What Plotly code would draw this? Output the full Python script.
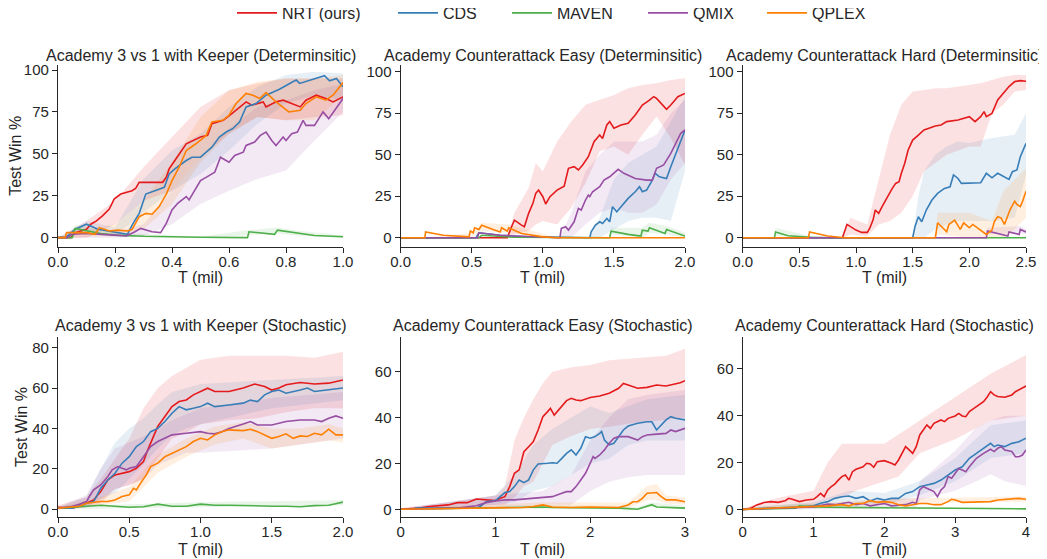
import plotly.graph_objects as go

FONT = "Liberation Sans, Arial, Helvetica, sans-serif"
TXT = "#262626"

methods = ["NRT (ours)", "CDS", "MAVEN", "QMIX", "QPLEX"]
colors = ["#e41a1c", "#377eb8", "#4daf4a", "#984ea3", "#ff7f00"]
fills = ["rgba(228,26,28,0.13)", "rgba(55,126,184,0.12)", "rgba(77,175,74,0.12)",
         "rgba(152,78,163,0.12)", "rgba(255,127,0,0.12)"]

titles = ["Academy 3 vs 1 with Keeper (Determinsitic)",
          "Academy Counterattack Easy (Determinsitic)",
          "Academy Counterattack Hard (Determinsitic)",
          "Academy 3 vs 1 with Keeper (Stochastic)",
          "Academy Counterattack Easy (Stochastic)",
          "Academy Counterattack Hard (Stochastic)"]
x_max = [1.0, 2.0, 2.5, 2.0, 3.0, 4.0]
x_ticks = [[0, 0.2, 0.4, 0.6, 0.8, 1.0], [0, 0.5, 1.0, 1.5, 2.0], [0, 0.5, 1.0, 1.5, 2.0, 2.5],
           [0, 0.5, 1.0, 1.5, 2.0], [0, 1, 2, 3], [0, 1, 2, 3, 4]]
x_fmt = [".1f", ".1f", ".1f", ".1f", "d", "d"]
y_ticks = [[0, 25, 50, 75, 100], [0, 25, 50, 75, 100], [0, 25, 50, 75, 100],
           [0, 20, 40, 60, 80], [0, 20, 40, 60], [0, 20, 40, 60]]
y_range = [[-5.4, 103], [-5.4, 104], [-5.4, 104], [-4.0, 85.4], [-3.5, 75.3], [-3.4, 73.8]]

# ---------------- Panel 1: 3 vs 1 with Keeper (Deterministic) ----------------
p1_nrt_t = [0, 0.045, 0.06, 0.1, 0.115, 0.135, 0.156, 0.18, 0.197, 0.22, 0.26, 0.273, 0.285, 0.367, 0.38, 0.39, 0.41, 0.45, 0.5, 0.525, 0.54, 0.58, 0.61, 0.64, 0.66, 0.68, 0.72, 0.73, 0.765, 0.79, 0.82, 0.85, 0.87, 0.906, 0.94, 0.965, 1.0]
p1_nrt_y = [0, 0, 3, 5, 8, 10, 13, 17, 23, 26, 28, 29.5, 33, 33, 36, 41, 46, 56, 60, 61, 68, 70, 74, 78, 81, 79, 81, 78, 81, 82, 80, 78, 82, 85, 83, 81, 84]
p1_nrt_bt = [0, 0.1, 0.2, 0.3, 0.4, 0.5, 0.6, 0.7, 0.8, 0.9, 1.0]
p1_nrt_lo = [0, 0, 8, 22, 28, 48, 62, 72, 70, 72, 73]
p1_nrt_hi = [0, 10, 22, 42, 60, 78, 88, 92, 95, 95, 95]

p1_cds_t = [0, 0.027, 0.06, 0.1, 0.14, 0.21, 0.244, 0.26, 0.285, 0.308, 0.343, 0.373, 0.39, 0.41, 0.45, 0.47, 0.5, 0.54, 0.566, 0.59, 0.613, 0.637, 0.66, 0.695, 0.73, 0.777, 0.824, 0.836, 0.848, 0.918, 0.935, 0.953, 0.977, 1.0]
p1_cds_y = [0, 0, 5, 8, 5, 3, 2, 7.5, 14.5, 26, 28, 30, 38, 41, 46, 48, 48, 54, 60, 63, 65, 69, 78, 80, 85, 88.5, 93, 94, 92, 96, 96.6, 93.6, 95, 90]
p1_cds_bt = [0, 0.1, 0.2, 0.3, 0.4, 0.5, 0.6, 0.7, 0.8, 0.9, 1.0]
p1_cds_lo = [0, 2, 1, 15, 28, 38, 52, 68, 80, 85, 82]
p1_cds_hi = [0, 10, 6, 35, 52, 62, 78, 90, 97, 99, 98]

p1_mav_t = [0, 0.05, 0.06, 0.1, 0.15, 0.2, 0.3, 0.5, 0.665, 0.67, 0.76, 0.77, 0.85, 0.9, 1.0]
p1_mav_y = [0, 0, 5.5, 4, 2.5, 1.5, 0.8, 0.2, 0, 3.5, 2, 4.5, 2.5, 1.3, 0.5]
p1_mav_bt = [0, 0.05, 0.06, 0.2, 0.5, 0.67, 0.77, 0.85, 1.0]
p1_mav_lo = [0, 0, 3, 0.5, 0, 1.5, 2.5, 1, 0]
p1_mav_hi = [0, 0, 7.5, 3, 0.5, 4.5, 6, 4, 1.5]

p1_qmix_t = [0, 0.03, 0.05, 0.1, 0.2, 0.24, 0.27, 0.29, 0.33, 0.36, 0.38, 0.4, 0.42, 0.45, 0.46, 0.48, 0.5, 0.53, 0.55, 0.57, 0.6, 0.62, 0.65, 0.66, 0.69, 0.71, 0.73, 0.75, 0.765, 0.79, 0.8, 0.82, 0.84, 0.86, 0.87, 0.9, 0.93, 0.95, 0.97, 1.0]
p1_qmix_y = [0, 0, 2, 2.5, 1.5, 1, 3.5, 5.5, 3.5, 3, 8.5, 16.5, 20.5, 24.5, 22.5, 28, 34, 37, 39, 48, 45, 49, 51, 55, 57, 61, 63, 58, 55, 60, 58, 62, 63, 70, 67, 67, 75, 71, 76, 83]
p1_qmix_bt = [0, 0.2, 0.3, 0.4, 0.5, 0.6, 0.7, 0.8, 0.9, 1.0]
p1_qmix_lo = [0, 0, 1, 8, 20, 28, 35, 40, 58, 75]
p1_qmix_hi = [0, 3, 8, 28, 48, 65, 78, 82, 88, 92]

p1_qplex_t = [0, 0.025, 0.03, 0.1, 0.13, 0.145, 0.18, 0.21, 0.244, 0.26, 0.285, 0.308, 0.33, 0.355, 0.38, 0.4, 0.425, 0.45, 0.484, 0.52, 0.54, 0.578, 0.6, 0.625, 0.66, 0.684, 0.707, 0.73, 0.765, 0.81, 0.85, 0.87, 0.906, 0.94, 0.965, 1.0]
p1_qplex_y = [0, 0, 3, 3, 2, 6, 4, 4.5, 4, 5, 12.5, 14.5, 14, 18.5, 26, 34, 42, 52, 56, 61, 69, 70, 73, 80, 86, 85, 83, 86.5, 81, 75, 76, 80, 84, 82, 85, 92.5]
p1_qplex_bt = [0, 0.2, 0.3, 0.4, 0.5, 0.6, 0.7, 0.8, 0.9, 1.0]
p1_qplex_lo = [0, 1, 5, 20, 45, 62, 72, 70, 70, 85]
p1_qplex_hi = [0, 8, 22, 45, 72, 88, 93, 95, 95, 97]

# ---------------- Panel 2: Counterattack Easy (Deterministic) ----------------
p2_nrt_t = [0, 0.75, 0.78, 0.8, 0.85, 0.87, 0.9, 0.93, 0.95, 0.97, 1.0, 1.02, 1.05, 1.1, 1.15, 1.18, 1.22, 1.25, 1.28, 1.32, 1.36, 1.4, 1.42, 1.45, 1.47, 1.5, 1.55, 1.6, 1.65, 1.7, 1.75, 1.78, 1.8, 1.84, 1.87, 1.9, 1.95, 2.0]
p2_nrt_y = [0, 0, 6.6, 10.6, 7.6, 6.6, 14.7, 20.7, 26.7, 28.7, 24.7, 20.3, 24.7, 28.7, 31, 41.8, 42.8, 40.8, 43.8, 48.8, 57.8, 61.8, 59.8, 67.9, 69.9, 65.9, 67.9, 68.9, 73.9, 79.9, 82.9, 84.9, 83.9, 79.9, 77.3, 79.9, 84.9, 86.9]
p2_nrt_bt = [0, 0.75, 0.8, 0.9, 0.95, 1.0, 1.1, 1.2, 1.3, 1.4, 1.5, 1.6, 1.7, 1.8, 1.9, 2.0]
p2_nrt_lo = [0, 0, 2, 4, 8, 10, 8, 18, 33, 52, 55, 50, 62, 73, 60, 44]
p2_nrt_hi = [0, 0, 15, 30, 45, 40, 58, 70, 80, 83, 86, 90, 92, 93, 95, 96]

p2_cds_t = [0, 0.53, 0.55, 0.7, 0.9, 1.1, 1.33, 1.34, 1.37, 1.4, 1.42, 1.45, 1.47, 1.49, 1.52, 1.55, 1.6, 1.65, 1.68, 1.7, 1.73, 1.77, 1.79, 1.82, 1.87, 1.9, 1.93, 1.96, 1.98, 2.0]
p2_cds_y = [0, 0, 3, 1.5, 0.5, 0.1, 0, 3.6, 7.6, 9.6, 8.6, 11.6, 9.6, 18.7, 15.7, 18.7, 23.7, 27.7, 30.7, 27.7, 28.7, 34.7, 38.8, 36.7, 35.7, 42.8, 49.8, 56.8, 60.8, 64.9]
p2_cds_bt = [0, 1.33, 1.4, 1.5, 1.6, 1.7, 1.8, 1.9, 2.0]
p2_cds_lo = [0, 0, 0, 5, 10, 12, 12, 10, 40]
p2_cds_hi = [0, 0, 12, 35, 45, 50, 55, 70, 85]

p2_mav_t = [0, 0.55, 0.57, 0.8, 1.47, 1.48, 1.6, 1.69, 1.7, 1.74, 1.75, 1.86, 1.87, 2.0]
p2_mav_y = [0, 0, 1.5, 0.3, 0, 4, 2, 1, 4.5, 4, 6, 2.5, 5, 1]
p2_mav_bt = [0, 1.47, 1.48, 1.7, 1.75, 1.87, 2.0]
p2_mav_lo = [0, 0, 2, 0, 3, 2, 0]
p2_mav_hi = [0, 0, 6, 6, 9, 7, 3]

p2_qmix_t = [0, 0.54, 0.55, 0.7, 0.8, 1.0, 1.12, 1.13, 1.16, 1.18, 1.22, 1.25, 1.27, 1.3, 1.32, 1.33, 1.35, 1.4, 1.43, 1.47, 1.5, 1.53, 1.57, 1.65, 1.73, 1.77, 1.8, 1.85, 1.9, 1.95, 1.97, 2.0]
p2_qmix_y = [0, 0, 3, 1.5, 1, 0.3, 0, 5.6, 6.6, 4.6, 9.6, 17.7, 16.7, 22.7, 25.7, 24.7, 27.7, 30.7, 34.7, 36.7, 38.8, 41.2, 38.8, 35.7, 34.7, 34.7, 41.8, 43.8, 50.8, 58.8, 62.9, 64.9]
p2_qmix_bt = [0, 1.12, 1.2, 1.3, 1.4, 1.5, 1.6, 1.7, 1.8, 1.9, 2.0]
p2_qmix_lo = [0, 0, 0, 8, 15, 18, 15, 15, 20, 35, 45]
p2_qmix_hi = [0, 0, 15, 40, 50, 58, 58, 58, 62, 75, 83]

p2_qplex_t = [0, 0.17, 0.175, 0.3, 0.48, 0.49, 0.51, 0.52, 0.55, 0.57, 0.65, 0.7, 0.71, 0.75, 0.76, 0.85, 1.0, 1.1, 2.0]
p2_qplex_y = [0, 0, 3.5, 1.5, 0.5, 4, 3, 6, 5, 7.5, 5, 3.5, 6, 4, 6, 2.5, 0.5, 0, 0]
p2_qplex_bt = [0, 0.17, 0.5, 0.57, 0.76, 1.1, 2.0]
p2_qplex_lo = [0, 0, 0, 4, 3, 0, 0]
p2_qplex_hi = [0, 0, 3, 9, 8, 0, 0]

# ---------------- Panel 3: Counterattack Hard (Deterministic) ----------------
p3_nrt_t = [0, 0.88, 0.92, 1.0, 1.05, 1.1, 1.12, 1.15, 1.17, 1.2, 1.23, 1.27, 1.32, 1.35, 1.38, 1.4, 1.43, 1.46, 1.5, 1.55, 1.6, 1.7, 1.75, 1.8, 1.9, 2.0, 2.05, 2.1, 2.13, 2.15, 2.2, 2.25, 2.3, 2.35, 2.4, 2.45, 2.5]
p3_nrt_y = [0, 0, 8, 4.6, 3.2, 3.2, 5.6, 10.6, 16.7, 14.7, 18.7, 23.7, 29.7, 32.7, 33.7, 38.8, 44.8, 52.8, 58.8, 61.8, 64.9, 67.3, 67.9, 69.9, 70.9, 72.9, 69.9, 72.9, 75.9, 72.9, 74.9, 82.9, 86.9, 91, 94, 94.6, 94.2]
p3_nrt_bt = [0, 0.88, 0.95, 1.1, 1.2, 1.3, 1.4, 1.5, 1.6, 1.7, 1.8, 2.0, 2.1, 2.2, 2.3, 2.4, 2.5]
p3_nrt_lo = [0, 0, 2, 1, 8, 10, 15, 25, 40, 45, 50, 55, 55, 75, 80, 88, 89]
p3_nrt_hi = [0, 0, 12, 8, 35, 62, 80, 88, 89, 90, 90, 92, 93, 95, 97, 98, 98]

p3_cds_t = [0, 1.5, 1.52, 1.55, 1.58, 1.62, 1.67, 1.72, 1.78, 1.83, 1.86, 1.9, 1.93, 2.0, 2.1, 2.15, 2.2, 2.25, 2.35, 2.38, 2.42, 2.45, 2.5]
p3_cds_y = [0, 0, 6.6, 12.6, 9.6, 16.7, 22.7, 26.7, 29.7, 30.7, 37.8, 35.7, 32.7, 32.7, 33.1, 38.8, 36.1, 38.8, 35.1, 39.8, 40.8, 48.8, 56.8]
p3_cds_bt = [0, 1.5, 1.55, 1.6, 1.7, 1.8, 1.9, 2.0, 2.2, 2.4, 2.5]
p3_cds_lo = [0, 0, 0, 0, 5, 8, 10, 10, 10, 12, 38]
p3_cds_hi = [0, 0, 25, 40, 50, 55, 58, 57, 60, 62, 75]

p3_mav_t = [0, 0.28, 0.29, 0.4, 0.6, 0.8, 2.5]
p3_mav_y = [0, 0, 3.5, 1.2, 0.3, 0, 0]
p3_mav_bt = [0, 0.28, 0.29, 0.6, 0.8]
p3_mav_lo = [0, 0, 1, 0, 0]
p3_mav_hi = [0, 0, 6, 1, 0]

p3_qmix_t = [0, 2.15, 2.16, 2.3, 2.34, 2.35, 2.44, 2.45, 2.5]
p3_qmix_y = [0, 0, 4, 1.5, 1, 3.5, 2, 5, 3.5]
p3_qmix_bt = [0, 2.15, 2.16, 2.45, 2.5]
p3_qmix_lo = [0, 0, 2, 3, 2]
p3_qmix_hi = [0, 0, 6, 7, 5]

p3_qplex_t = [0, 0.58, 0.59, 0.75, 0.9, 1.7, 1.72, 1.8, 1.82, 1.87, 1.92, 1.95, 2.0, 2.03, 2.15, 2.2, 2.22, 2.25, 2.28, 2.31, 2.36, 2.4, 2.42, 2.45, 2.47, 2.5]
p3_qplex_y = [0, 0, 3.5, 1, 0, 0, 9, 3.6, 8, 10.6, 5, 9, 6, 8, 2, 4.6, 9.6, 12.6, 12, 8, 17, 22, 20, 18.7, 22, 28]
p3_qplex_bt = [0, 1.7, 1.72, 2.0, 2.2, 2.3, 2.4, 2.5]
p3_qplex_lo = [0, 0, 2, 0, 0, 0, 5, 12]
p3_qplex_hi = [0, 0, 15, 15, 10, 28, 35, 42]

# ---------------- Panel 4: 3 vs 1 with Keeper (Stochastic) ----------------
p4_nrt_t = [0, 0.1, 0.15, 0.2, 0.25, 0.3, 0.35, 0.4, 0.45, 0.5, 0.55, 0.6, 0.63, 0.67, 0.7, 0.75, 0.8, 0.85, 0.9, 0.95, 1.0, 1.05, 1.1, 1.2, 1.3, 1.38, 1.45, 1.5, 1.55, 1.6, 1.7, 1.8, 1.9, 1.95, 2.0]
p4_nrt_y = [1, 0.5, 1.5, 3, 4.6, 8.7, 14.5, 17, 17.8, 18.6, 20.3, 23.6, 29.4, 36, 41, 45.9, 50.8, 53.3, 54.1, 56.6, 58.3, 59.9, 58.3, 58.3, 60, 62, 60.7, 59, 60, 61.6, 62.7, 62, 62.4, 63.2, 64]
p4_nrt_bt = [0, 0.2, 0.3, 0.4, 0.5, 0.6, 0.7, 0.8, 0.9, 1.0, 1.2, 1.4, 1.6, 1.8, 2.0]
p4_nrt_lo = [0, 1, 3, 10, 12, 15, 25, 35, 38, 42, 44, 45, 48, 50, 50]
p4_nrt_hi = [2, 6, 15, 25, 35, 50, 60, 66, 70, 74, 76, 76, 76, 75, 78]

p4_cds_t = [0, 0.1, 0.2, 0.25, 0.27, 0.3, 0.35, 0.4, 0.45, 0.5, 0.55, 0.6, 0.65, 0.7, 0.75, 0.8, 0.85, 0.9, 0.95, 1.0, 1.05, 1.1, 1.2, 1.3, 1.35, 1.4, 1.45, 1.5, 1.55, 1.6, 1.7, 1.75, 1.8, 1.9, 2.0]
p4_cds_y = [0.5, 0.5, 3, 3.8, 6.3, 10.4, 14.5, 17.8, 22.8, 26, 31, 33.5, 38.4, 40, 43.4, 47.5, 50.8, 49.2, 50, 50.8, 52.5, 50.8, 51.6, 52.5, 54, 53.3, 56.6, 58.3, 59, 57.4, 59, 60, 58.3, 59, 60]
p4_cds_bt = [0, 0.2, 0.3, 0.4, 0.5, 0.6, 0.7, 0.8, 0.9, 1.0, 1.5, 2.0]
p4_cds_lo = [0, 1, 5, 8, 15, 22, 30, 37, 40, 42, 50, 54]
p4_cds_hi = [1, 6, 20, 33, 40, 45, 52, 58, 60, 62, 64, 66]

p4_mav_t = [0, 0.2, 0.3, 0.4, 0.5, 0.6, 0.7, 0.8, 0.9, 1.0, 1.1, 1.2, 1.3, 1.4, 1.5, 1.6, 1.7, 1.8, 1.9, 2.0]
p4_mav_y = [0.5, 1.5, 2, 1.5, 1, 1.2, 2.5, 1.5, 1.5, 2.5, 2, 2, 1.8, 1.5, 1.5, 1.5, 1.2, 1.8, 2, 3.5]
p4_mav_bt = [0, 1.0, 2.0]
p4_mav_lo = [0, 1, 2]
p4_mav_hi = [1.5, 3.5, 4.5]

p4_qmix_t = [0, 0.05, 0.1, 0.15, 0.2, 0.22, 0.25, 0.3, 0.35, 0.38, 0.42, 0.45, 0.48, 0.5, 0.55, 0.6, 0.65, 0.7, 0.75, 0.8, 0.9, 1.0, 1.05, 1.1, 1.15, 1.2, 1.3, 1.35, 1.4, 1.5, 1.6, 1.7, 1.8, 1.85, 1.9, 1.95, 2.0]
p4_qmix_y = [0.5, 1, 1.5, 2.5, 3.8, 6.3, 9.6, 12, 16.2, 19.5, 21.1, 20.3, 19.5, 20.3, 21.1, 26, 31, 33.5, 35.1, 36.8, 37.6, 38.4, 37.6, 37.3, 38.4, 40, 42.2, 43.4, 41.7, 41.7, 43.4, 44.2, 44.2, 43.4, 45, 46.2, 45]
p4_qmix_bt = [0, 0.2, 0.3, 0.4, 0.5, 0.6, 0.7, 0.8, 0.9, 1.0, 1.5, 2.0]
p4_qmix_lo = [0, 1, 5, 10, 12, 15, 22, 25, 28, 28, 30, 35]
p4_qmix_hi = [1, 7, 20, 30, 33, 36, 40, 44, 47, 50, 55, 58]

p4_qplex_t = [0, 0.15, 0.2, 0.25, 0.3, 0.35, 0.4, 0.45, 0.5, 0.53, 0.55, 0.58, 0.62, 0.65, 0.7, 0.75, 0.8, 0.85, 0.9, 0.95, 1.0, 1.05, 1.1, 1.15, 1.2, 1.3, 1.35, 1.4, 1.45, 1.5, 1.55, 1.6, 1.65, 1.7, 1.75, 1.8, 1.85, 1.9, 1.95, 2.0]
p4_qplex_y = [0.5, 1.5, 3, 3.5, 3.8, 3.8, 4.6, 6.3, 7.1, 10.4, 9.6, 12.9, 17, 21.1, 22.8, 26, 27.7, 29.7, 31, 33.5, 35.1, 34.3, 36.8, 38.4, 39.3, 38.9, 39.6, 38.4, 36.8, 35.1, 36, 37.3, 35.1, 36.3, 36, 37.6, 36.8, 39.6, 36.8, 36.8]
p4_qplex_bt = [0, 0.3, 0.5, 0.7, 0.9, 1.1, 1.3, 1.5, 1.7, 1.9, 2.0]
p4_qplex_lo = [0, 2, 4, 18, 26, 32, 35, 30, 32, 34, 33]
p4_qplex_hi = [1, 6, 11, 27, 35, 41, 43, 40, 40, 42, 40]

# ---------------- Panel 5: Counterattack Easy (Stochastic) ----------------
p5_nrt_t = [0, 0.2, 0.3, 0.4, 0.5, 0.6, 0.7, 0.8, 0.9, 1.0, 1.05, 1.1, 1.15, 1.2, 1.25, 1.28, 1.3, 1.35, 1.4, 1.45, 1.5, 1.55, 1.58, 1.62, 1.65, 1.7, 1.75, 1.8, 1.85, 1.9, 2.0, 2.1, 2.2, 2.3, 2.35, 2.4, 2.5, 2.6, 2.7, 2.8, 2.9, 2.95, 3.0]
p5_nrt_y = [0, 0.5, 1.2, 1.5, 1.9, 2.9, 2.9, 4.5, 4.1, 3.8, 4.8, 5.5, 9.9, 15.7, 17.2, 21.5, 25.1, 27.3, 29.5, 34.6, 40.4, 42.6, 44, 41.1, 42.6, 44.8, 47.4, 48.4, 47.7, 47.4, 48.8, 49.4, 50.6, 52.8, 54.9, 54.2, 52.8, 53.2, 54.2, 53.8, 54.7, 55.2, 56.1]
p5_nrt_bt = [0, 0.5, 1.0, 1.1, 1.2, 1.3, 1.4, 1.5, 1.6, 1.8, 2.0, 2.2, 2.5, 2.8, 3.0]
p5_nrt_lo = [0, 0.5, 2, 2, 5, 10, 12, 20, 28, 32, 35, 36, 38, 39, 40]
p5_nrt_hi = [0.5, 3, 6, 10, 30, 40, 48, 55, 60, 62, 63, 65, 66, 67, 70]

p5_cds_t = [0.15, 0.5, 0.8, 0.85, 0.9, 1.0, 1.05, 1.1, 1.15, 1.2, 1.25, 1.3, 1.35, 1.4, 1.45, 1.5, 1.55, 1.6, 1.65, 1.7, 1.75, 1.8, 1.85, 1.9, 1.95, 2.0, 2.05, 2.1, 2.12, 2.15, 2.2, 2.25, 2.3, 2.35, 2.4, 2.5, 2.6, 2.65, 2.7, 2.75, 2.8, 2.85, 2.9, 3.0]
p5_cds_y = [0.5, 0.5, 0.5, 1.5, 3.3, 3.8, 5.5, 7.3, 7.7, 9.9, 12.8, 11.6, 12.8, 17.2, 19.8, 19.8, 20.1, 20.3, 20.1, 22.2, 24.4, 25.9, 23.7, 26.6, 31.7, 31, 31.7, 33.1, 33.9, 30.2, 28.1, 28.8, 31.7, 34.6, 36.3, 37.5, 38.2, 38.2, 34.6, 36.8, 39, 40.4, 39.7, 39]
p5_cds_bt = [0.15, 1.0, 1.2, 1.4, 1.6, 1.8, 2.0, 2.2, 2.4, 2.6, 3.0]
p5_cds_lo = [0, 2, 3, 8, 10, 15, 20, 22, 28, 30, 30]
p5_cds_hi = [1, 6, 15, 28, 35, 40, 45, 42, 45, 48, 50]

p5_mav_t = [0, 0.5, 1.0, 1.5, 1.6, 2.0, 2.3, 2.5, 2.6, 2.65, 2.7, 3.0]
p5_mav_y = [0, 0.3, 0.8, 1, 0.8, 0.8, 0.5, 0, 1.5, 2, 1, 0.5]
p5_mav_bt = [0, 1.5, 2.5, 2.65, 3.0]
p5_mav_lo = [0, 0.3, 0, 1, 0]
p5_mav_hi = [0.5, 2, 1, 3, 1.5]

p5_qmix_t = [0, 0.6, 0.8, 0.9, 1.0, 1.1, 1.2, 1.3, 1.4, 1.5, 1.6, 1.7, 1.75, 1.8, 1.85, 1.9, 1.95, 2.0, 2.03, 2.05, 2.1, 2.15, 2.2, 2.25, 2.3, 2.4, 2.45, 2.5, 2.55, 2.6, 2.7, 2.8, 2.85, 2.9, 3.0]
p5_qmix_y = [0, 0.5, 1.5, 2.9, 3.6, 4.1, 4.1, 4.4, 4.8, 5.1, 5.5, 7, 7.7, 7.7, 9.9, 12.8, 15.7, 20.1, 23, 22.2, 23.7, 25.9, 28.8, 31, 31.7, 31.7, 31, 30.2, 31.7, 32.4, 32.8, 33.1, 34.6, 33.9, 35.3]
p5_qmix_bt = [0, 1.0, 1.5, 1.8, 2.0, 2.2, 2.4, 2.6, 3.0]
p5_qmix_lo = [0, 1, 2, 2, 8, 12, 14, 15, 15]
p5_qmix_hi = [0.5, 6, 8, 15, 30, 40, 48, 50, 52]

p5_qplex_t = [0, 0.5, 1.0, 1.3, 1.4, 1.5, 1.6, 1.8, 2.0, 2.2, 2.3, 2.4, 2.45, 2.5, 2.55, 2.6, 2.65, 2.7, 2.75, 2.8, 2.9, 3.0]
p5_qplex_y = [0, 0.3, 0.5, 0.8, 1.2, 1.9, 1, 0.8, 1, 1, 0.8, 1.9, 3.3, 3.3, 4.8, 7, 7, 7.3, 5.5, 4.1, 4.1, 3.3]
p5_qplex_bt = [0, 1.5, 2.4, 2.6, 2.7, 2.8, 3.0]
p5_qplex_lo = [0, 0.5, 0.5, 4, 4, 2.5, 2]
p5_qplex_hi = [0.5, 3, 3, 10, 11, 6, 5]

# ---------------- Panel 6: Counterattack Hard (Stochastic) ----------------
p6_nrt_t = [0, 0.1, 0.2, 0.3, 0.4, 0.5, 0.6, 0.65, 0.7, 0.8, 0.9, 1.0, 1.05, 1.1, 1.15, 1.2, 1.25, 1.3, 1.35, 1.4, 1.45, 1.5, 1.55, 1.6, 1.7, 1.75, 1.8, 1.85, 1.9, 2.0, 2.1, 2.15, 2.2, 2.25, 2.3, 2.35, 2.4, 2.45, 2.5, 2.55, 2.6, 2.65, 2.7, 2.8, 2.85, 2.9, 3.0, 3.05, 3.1, 3.15, 3.2, 3.3, 3.4, 3.45, 3.5, 3.55, 3.6, 3.7, 3.8, 3.85, 3.9, 4.0]
p6_nrt_y = [0, 0.3, 1.9, 2.9, 3.3, 3, 3.7, 4.7, 4.3, 3.3, 4, 4.3, 5.4, 6.8, 5.4, 8.3, 9.7, 10.8, 12.5, 14, 14.7, 12.5, 16.1, 17.1, 18.2, 19.7, 19.4, 18, 20.4, 20.8, 19.7, 19, 21.1, 23.9, 26.8, 25.4, 23.9, 26.8, 31.8, 33.9, 36.1, 34.6, 36.8, 38.2, 37.5, 38.9, 39.9, 41, 39.9, 39.6, 41.8, 43.9, 46, 47.9, 50.3, 48.9, 48.2, 47.9, 48.9, 50.3, 51, 52.7]
p6_nrt_bt = [0, 0.5, 1.0, 1.2, 1.4, 1.6, 1.8, 2.0, 2.2, 2.5, 3.0, 3.5, 4.0]
p6_nrt_lo = [0, 1.5, 2, 4, 5, 8, 10, 12, 14, 24, 30, 38, 40]
p6_nrt_hi = [0.5, 5, 8, 20, 28, 28, 28, 28, 32, 38, 48, 58, 66]

p6_cds_t = [0, 0.5, 0.8, 1.0, 1.1, 1.2, 1.3, 1.4, 1.5, 1.6, 1.7, 1.8, 1.9, 2.0, 2.1, 2.2, 2.3, 2.4, 2.5, 2.6, 2.7, 2.8, 2.9, 3.0, 3.1, 3.2, 3.3, 3.4, 3.5, 3.55, 3.6, 3.7, 3.8, 3.9, 4.0]
p6_cds_y = [0, 0.5, 1, 1.5, 2.6, 3.3, 4.7, 5.4, 5.7, 4.7, 5.4, 3.6, 4.7, 4, 4.7, 4.7, 6.8, 7.6, 9.7, 10.4, 11.1, 12.5, 14.7, 16.8, 18.2, 21.8, 23.9, 26.1, 28.2, 26.8, 27.5, 26.8, 28.2, 28.9, 30.4]
p6_cds_bt = [0, 1.0, 1.5, 2.0, 2.5, 3.0, 3.5, 4.0]
p6_cds_lo = [0, 0.5, 3, 2, 6, 12, 22, 24]
p6_cds_hi = [0.5, 3, 8, 7, 12, 22, 36, 38]

p6_mav_t = [0, 0.5, 0.75, 0.8, 0.9, 1.0, 1.5, 2.0, 2.5, 3.0, 3.5, 4.0]
p6_mav_y = [0, 0.3, 0.5, 1.5, 1.2, 1, 0.8, 0.7, 0.5, 0.5, 0.4, 0.2]
p6_mav_bt = [0, 0.8, 2.0, 4.0]
p6_mav_lo = [0, 0.5, 0.3, 0]
p6_mav_hi = [0.5, 2.5, 1.2, 0.5]

p6_qmix_t = [0, 0.5, 1.0, 1.2, 1.3, 1.4, 1.5, 1.6, 1.7, 1.8, 1.9, 2.0, 2.1, 2.2, 2.3, 2.4, 2.45, 2.5, 2.55, 2.6, 2.7, 2.75, 2.8, 2.85, 2.9, 2.95, 3.0, 3.05, 3.1, 3.15, 3.2, 3.3, 3.4, 3.5, 3.55, 3.6, 3.65, 3.7, 3.8, 3.85, 3.9, 3.95, 4.0]
p6_qmix_y = [0, 0.5, 1, 2.3, 2, 2.5, 3, 2, 2.5, 1.5, 2, 2.5, 1.5, 1.8, 2, 3, 2.5, 8.3, 9.7, 9, 7.6, 5.4, 8.3, 9.7, 14, 13.3, 15.4, 17.5, 16.8, 16.1, 18.2, 21.8, 23.9, 25.7, 24.7, 26.1, 26.8, 25.4, 24.7, 22.5, 22.5, 23.2, 25.4]
p6_qmix_bt = [0, 1.0, 2.0, 2.45, 2.5, 3.0, 3.3, 3.5, 3.7, 4.0]
p6_qmix_lo = [0, 0, 0.5, 1, 4, 8, 12, 15, 12, 10]
p6_qmix_hi = [0.5, 2, 4, 5, 12, 25, 35, 38, 40, 40]

p6_qplex_t = [0, 0.5, 1.0, 1.2, 1.4, 1.5, 1.6, 1.7, 1.8, 1.9, 2.0, 2.1, 2.2, 2.3, 2.4, 2.5, 2.6, 2.7, 2.8, 2.9, 2.95, 3.0, 3.1, 3.2, 3.4, 3.5, 3.6, 3.7, 3.8, 3.9, 4.0]
p6_qplex_y = [0, 0.5, 1, 1.5, 2, 1.5, 2.5, 2.5, 3.7, 3, 3.3, 3, 2, 1.5, 2, 2.5, 2.5, 2, 2, 3.3, 4.3, 4, 3, 3, 3, 3.3, 4, 4.3, 4.5, 4.7, 4.3]
p6_qplex_bt = [0, 2.0, 3.0, 4.0]
p6_qplex_lo = [0, 2, 3, 3.3]
p6_qplex_hi = [0.5, 4.5, 5, 5.5]

panels = [
    [(p1_nrt_t, p1_nrt_y, p1_nrt_bt, p1_nrt_lo, p1_nrt_hi), (p1_cds_t, p1_cds_y, p1_cds_bt, p1_cds_lo, p1_cds_hi),
     (p1_mav_t, p1_mav_y, p1_mav_bt, p1_mav_lo, p1_mav_hi), (p1_qmix_t, p1_qmix_y, p1_qmix_bt, p1_qmix_lo, p1_qmix_hi),
     (p1_qplex_t, p1_qplex_y, p1_qplex_bt, p1_qplex_lo, p1_qplex_hi)],
    [(p2_nrt_t, p2_nrt_y, p2_nrt_bt, p2_nrt_lo, p2_nrt_hi), (p2_cds_t, p2_cds_y, p2_cds_bt, p2_cds_lo, p2_cds_hi),
     (p2_mav_t, p2_mav_y, p2_mav_bt, p2_mav_lo, p2_mav_hi), (p2_qmix_t, p2_qmix_y, p2_qmix_bt, p2_qmix_lo, p2_qmix_hi),
     (p2_qplex_t, p2_qplex_y, p2_qplex_bt, p2_qplex_lo, p2_qplex_hi)],
    [(p3_nrt_t, p3_nrt_y, p3_nrt_bt, p3_nrt_lo, p3_nrt_hi), (p3_cds_t, p3_cds_y, p3_cds_bt, p3_cds_lo, p3_cds_hi),
     (p3_mav_t, p3_mav_y, p3_mav_bt, p3_mav_lo, p3_mav_hi), (p3_qmix_t, p3_qmix_y, p3_qmix_bt, p3_qmix_lo, p3_qmix_hi),
     (p3_qplex_t, p3_qplex_y, p3_qplex_bt, p3_qplex_lo, p3_qplex_hi)],
    [(p4_nrt_t, p4_nrt_y, p4_nrt_bt, p4_nrt_lo, p4_nrt_hi), (p4_cds_t, p4_cds_y, p4_cds_bt, p4_cds_lo, p4_cds_hi),
     (p4_mav_t, p4_mav_y, p4_mav_bt, p4_mav_lo, p4_mav_hi), (p4_qmix_t, p4_qmix_y, p4_qmix_bt, p4_qmix_lo, p4_qmix_hi),
     (p4_qplex_t, p4_qplex_y, p4_qplex_bt, p4_qplex_lo, p4_qplex_hi)],
    [(p5_nrt_t, p5_nrt_y, p5_nrt_bt, p5_nrt_lo, p5_nrt_hi), (p5_cds_t, p5_cds_y, p5_cds_bt, p5_cds_lo, p5_cds_hi),
     (p5_mav_t, p5_mav_y, p5_mav_bt, p5_mav_lo, p5_mav_hi), (p5_qmix_t, p5_qmix_y, p5_qmix_bt, p5_qmix_lo, p5_qmix_hi),
     (p5_qplex_t, p5_qplex_y, p5_qplex_bt, p5_qplex_lo, p5_qplex_hi)],
    [(p6_nrt_t, p6_nrt_y, p6_nrt_bt, p6_nrt_lo, p6_nrt_hi), (p6_cds_t, p6_cds_y, p6_cds_bt, p6_cds_lo, p6_cds_hi),
     (p6_mav_t, p6_mav_y, p6_mav_bt, p6_mav_lo, p6_mav_hi), (p6_qmix_t, p6_qmix_y, p6_qmix_bt, p6_qmix_lo, p6_qmix_hi),
     (p6_qplex_t, p6_qplex_y, p6_qplex_bt, p6_qplex_lo, p6_qplex_hi)],
]

# ---- layout geometry: the page body has an 8px margin, so the figure is 8px smaller ----
OFF = 8
W, H = 1047 - OFF, 559 - OFF


def px(x):
    return (x - OFF) / W


def py(y):
    return 1 - (y - OFF) / H


col_dom = [[px(58), px(343)], [px(400.7), px(685)], [px(742.7), px(1026)]]
row_dom = [[py(246.7), py(65)], [py(517.3), py(336.7)]]
title_y = [py(55), py(325)]
xlab_y = [py(277), py(549)]
ylab_x = [px(16), px(21)]
# one small legend per method so the entries sit at the reference's column positions
legend_x = [px(232), px(393), px(507), px(643), px(762)]
legend_ids = ["legend"] + ["legend%d" % (i + 1) for i in range(1, len(methods))]

fig = go.Figure()

for p, series in enumerate(panels):
    ax = "" if p == 0 else str(p + 1)
    for k, (t, y, bt, lo, hi) in enumerate(series):
        assert len(t) == len(y) and len(bt) == len(lo) == len(hi)
        fig.add_trace(go.Scatter(
            x=list(bt) + list(bt)[::-1], y=list(hi) + list(lo)[::-1],
            fill="toself", fillcolor=fills[k], line=dict(width=0),
            mode="lines", hoverinfo="skip", showlegend=False,
            xaxis="x" + ax, yaxis="y" + ax))
    for k, (t, y, bt, lo, hi) in enumerate(series):
        fig.add_trace(go.Scatter(
            x=t, y=y, mode="lines", name=methods[k],
            line=dict(color=colors[k], width=1.6),
            showlegend=(p == 0), legendgroup=methods[k], legend=legend_ids[k],
            xaxis="x" + ax, yaxis="y" + ax))

axis_common = dict(showline=True, linecolor=TXT, linewidth=1.3, ticks="outside",
                   ticklen=5, tickwidth=1.3, tickcolor=TXT, showgrid=False,
                   zeroline=False, automargin=False,
                   tickfont=dict(size=15, color=TXT, family=FONT))

layout = {}
annotations = []
for p in range(6):
    r, c = divmod(p, 3)
    ax = "" if p == 0 else str(p + 1)
    layout["xaxis" + ax] = dict(axis_common, domain=col_dom[c], anchor="y" + ax,
                                range=[0, x_max[p]], tickvals=x_ticks[p], tickformat=x_fmt[p],
                                ticklabelstandoff=-4)
    layout["yaxis" + ax] = dict(axis_common, domain=row_dom[r], anchor="x" + ax,
                                range=y_range[p], tickvals=y_ticks[p])
    xc = (col_dom[c][0] + col_dom[c][1]) / 2
    annotations.append(dict(text=titles[p], x=xc, y=title_y[r],
                            xref="paper", yref="paper", xanchor="center", yanchor="middle",
                            showarrow=False, font=dict(size=16, color=TXT, family=FONT)))
    annotations.append(dict(text="T (mil)", x=xc, y=xlab_y[r],
                            xref="paper", yref="paper", xanchor="center", yanchor="middle",
                            showarrow=False, font=dict(size=16, color=TXT, family=FONT)))

for r in range(2):
    annotations.append(dict(text="Test Win %", x=ylab_x[r], y=sum(row_dom[r]) / 2, textangle=-90,
                            xref="paper", yref="paper", xanchor="center", yanchor="middle",
                            showarrow=False, font=dict(size=16, color=TXT, family=FONT)))

for k, lid in enumerate(legend_ids):
    layout[lid] = dict(orientation="h", x=legend_x[k], xanchor="left", y=py(13), yanchor="middle",
                       font=dict(size=16, color=TXT, family=FONT), itemwidth=40,
                       bgcolor="rgba(0,0,0,0)")

fig.update_layout(
    width=W, height=H,
    margin=dict(l=0, r=0, t=0, b=0, autoexpand=False),
    paper_bgcolor="white", plot_bgcolor="white",
    font=dict(family=FONT, color=TXT, size=15),
    showlegend=True,
    annotations=annotations,
    **layout,
)

fig.write_html("out.html")
